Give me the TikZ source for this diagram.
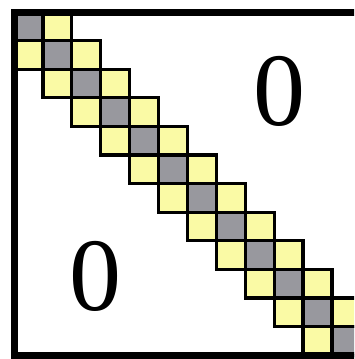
\documentclass[tikz,border=0pt]{standalone}
\usepackage{fontspec}
\setmainfont{Liberation Serif}
\definecolor{diaggray}{RGB}{152,152,158}
\definecolor{bandyellow}{RGB}{250,250,165}

\begin{document}
\begin{tikzpicture}[x=1pt, y=-1pt,
  cell/.style={draw=black, line width=3.2pt},
  dcell/.style={cell, fill=diaggray},
  ocell/.style={cell, fill=bandyellow},
  frame/.style={draw=black, line width=7pt},
  zero/.style={font=\fontsize{104}{104}\selectfont, inner sep=0pt}
]
\useasboundingbox (0,0) rectangle (354,359);
\clip (0,0) rectangle (354,359);
\def\px{28.9} \def\py{28.6}
% off-diagonal band
\foreach \i in {0,...,10} {
  \draw[ocell] ({14+(\i+1)*\px},{12+\i*\py}) rectangle ++(\px,\py);
  \draw[ocell] ({14+\i*\px},{12+(\i+1)*\py}) rectangle ++(\px,\py);
}
% main diagonal
\foreach \i in {0,...,11}
  \draw[dcell] ({14+\i*\px},{12+\i*\py}) rectangle ++(\px,\py);
\draw[frame] (14,12) rectangle ({14+12*\px},{12+12*\py});
\node[zero] (upper) at (279,91) {0};
\node[zero] (lower) at (95,276) {0};
\end{tikzpicture}
\end{document}
